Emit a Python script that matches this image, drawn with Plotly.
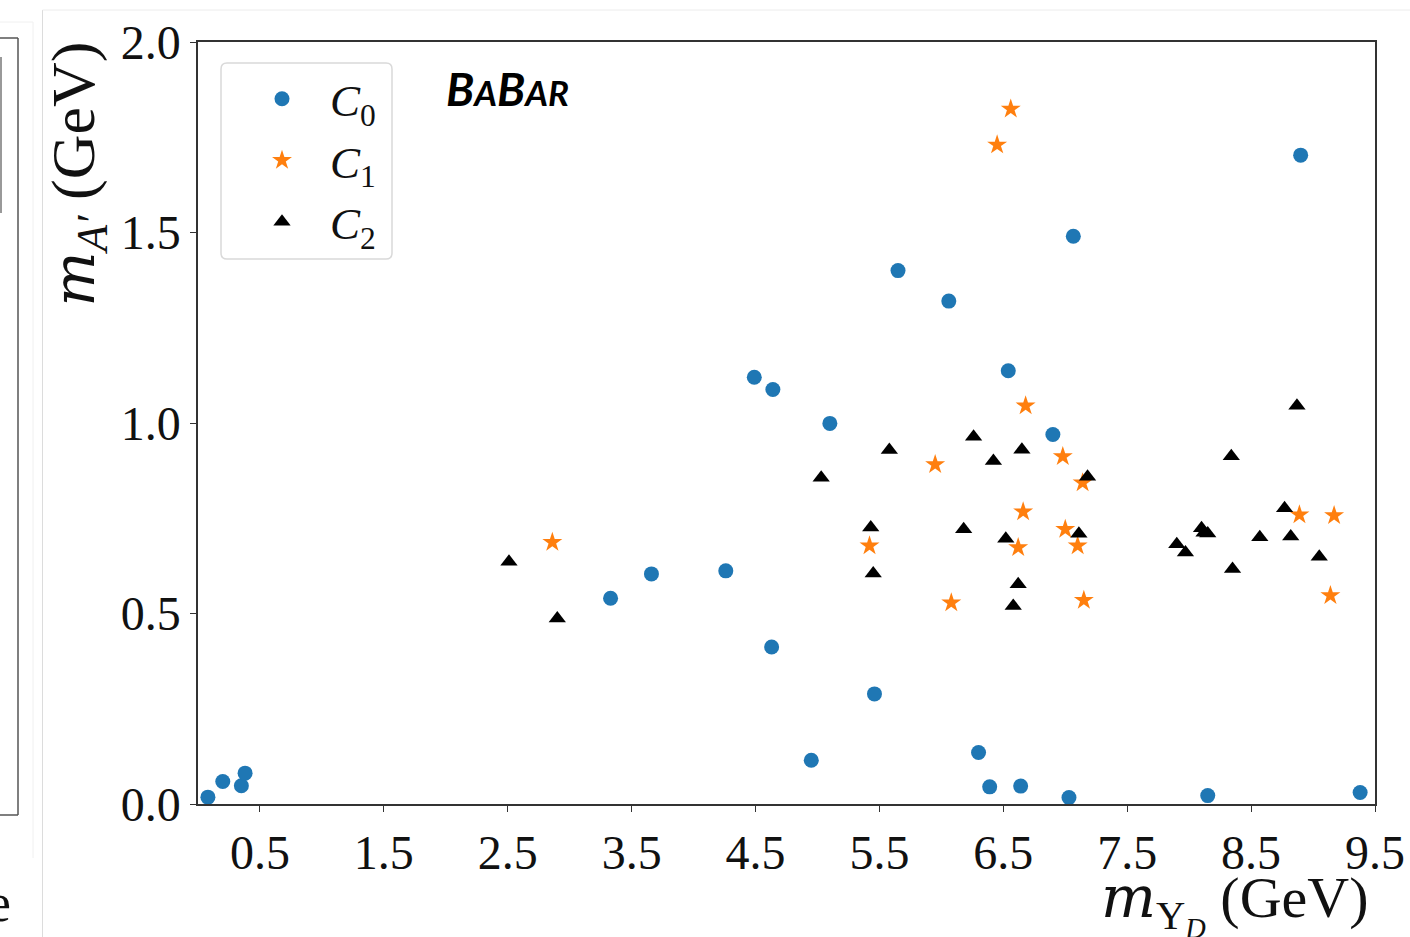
import plotly.graph_objects as go

# ---- data ----
c0_x = [0.08, 0.20, 0.35, 0.38, 3.33, 3.66, 4.26, 4.49, 4.64, 4.63, 4.95, 5.10, 5.46,
        5.65, 6.06, 6.30, 6.39, 6.54, 6.64, 6.90, 7.03, 7.065, 8.15, 8.90, 9.38]
c0_y = [0.018, 0.059, 0.048, 0.081, 0.540, 0.604, 0.612, 1.120, 1.088, 0.412, 0.115, 0.999, 0.289,
        1.40, 1.32, 0.135, 0.045, 1.137, 0.047, 0.970, 0.017, 1.49, 0.022, 1.703, 0.030]

c1_x = [2.86, 5.42, 5.95, 6.08, 6.45, 6.56, 6.62, 6.66, 6.68, 6.98, 7.00, 7.10, 7.14,
        7.15, 8.89, 9.14, 9.17]
c1_y = [0.687, 0.678, 0.891, 0.528, 1.73, 1.824, 0.673, 0.767, 1.045, 0.912, 0.721, 0.678, 0.843,
        0.535, 0.759, 0.547, 0.757]

c2_x = [2.51, 2.90, 5.03, 5.43, 5.45, 5.58, 6.18, 6.26, 6.42, 6.52, 6.58, 6.62, 6.65, 7.11,
        7.18, 7.90, 7.97, 8.10, 8.12, 8.15, 8.34, 8.35, 8.57, 8.77, 8.82, 8.87, 9.05]
c2_y = [0.636, 0.487, 0.856, 0.726, 0.605, 0.929, 0.721, 0.964, 0.900, 0.696, 0.520, 0.577, 0.930, 0.709,
        0.859, 0.682, 0.660, 0.724, 0.712, 0.710, 0.913, 0.617, 0.700, 0.776, 0.702, 1.045, 0.649]

x_ticks = [0.5, 1.5, 2.5, 3.5, 4.5, 5.5, 6.5, 7.5, 8.5, 9.5]
x_tick_labels = ["0.5", "1.5", "2.5", "3.5", "4.5", "5.5", "6.5", "7.5", "8.5", "9.5"]
y_ticks = [0.0, 0.5, 1.0, 1.5, 2.0]
y_tick_labels = ["0.0", "0.5", "1.0", "1.5", "2.0"]

series_names = ["<i>C</i><sub>0</sub>", "<i>C</i><sub>1</sub>", "<i>C</i><sub>2</sub>"]

# ---- layout geometry ----
W, H = 1410, 937
L, R, T, B = 198, 1375, 42, 804   # plot area in pixels
PW, PH = R - L, B - T


def px(x):
    return (x - L) / PW


def py(y):
    return (B - y) / PH


SERIF = "Liberation Serif"

fig = go.Figure()
fig.add_trace(go.Scatter(x=c0_x, y=c0_y, mode="markers", name=series_names[0],
                         marker=dict(symbol="circle", size=15, color="#1f77b4", line=dict(width=0))))
fig.add_trace(go.Scatter(x=c1_x, y=c1_y, mode="markers", name=series_names[1],
                         marker=dict(symbol="star", size=15, color="#ff7f0e", line=dict(width=0))))
fig.add_trace(go.Scatter(x=c2_x, y=c2_y, mode="markers", name=series_names[2],
                         marker=dict(symbol="triangle-up", size=15, color="#000000", line=dict(width=0))))

axis_common = dict(showgrid=False, zeroline=False, showline=True, mirror=True,
                   linecolor="#333", linewidth=1.5, ticks="outside", ticklen=6,
                   tickwidth=1.2, tickcolor="#333", automargin=False,
                   tickfont=dict(family=SERIF, size=48, color="#111"))

fig.update_layout(
    width=W, height=H,
    margin=dict(l=L, r=W - R, t=T, b=H - B, pad=0, autoexpand=False),
    paper_bgcolor="white", plot_bgcolor="white",
    xaxis=dict(range=[0, 9.5], tickvals=x_ticks, ticktext=x_tick_labels, **axis_common),
    yaxis=dict(range=[0, 2.0], tickvals=y_ticks, ticktext=y_tick_labels, **axis_common),
    showlegend=True,
    legend=dict(x=px(234), y=py(63), xanchor="left", yanchor="top",
                bgcolor="rgba(0,0,0,0)", borderwidth=0, itemwidth=86,
                font=dict(family=SERIF, size=45, color="#111"),
                itemsizing="trace"),
)

shapes = []
lx0, lx1, ly0, ly1, rad = 221, 392, 63, 259, 6


def P(x, y):
    return f"{px(x)},{py(y)}"


# rounded legend frame
path = (f"M {P(lx0 + rad, ly0)} L {P(lx1 - rad, ly0)} Q {P(lx1, ly0)} {P(lx1, ly0 + rad)} "
        f"L {P(lx1, ly1 - rad)} Q {P(lx1, ly1)} {P(lx1 - rad, ly1)} "
        f"L {P(lx0 + rad, ly1)} Q {P(lx0, ly1)} {P(lx0, ly1 - rad)} "
        f"L {P(lx0, ly0 + rad)} Q {P(lx0, ly0)} {P(lx0 + rad, ly0)} Z")
shapes.append(dict(type="path", xref="paper", yref="paper", path=path,
                   line=dict(color="#d9d9d9", width=1.5), fillcolor="rgba(255,255,255,0.8)",
                   layer="above"))


# cropped neighbouring-panel artefacts on the left edge
def seg(xa, ya, xb, yb, color, w):
    shapes.append(dict(type="line", xref="paper", yref="paper",
                       x0=px(xa), y0=py(ya), x1=px(xb), y1=py(yb),
                       line=dict(color=color, width=w)))


seg(0, 38, 18, 38, "#555", 1.5)
seg(18, 38, 18, 815, "#555", 1.5)
seg(0, 815, 18, 815, "#555", 1.5)
seg(1, 57, 1, 213, "#777", 1.5)
seg(0, 22, 33, 22, "#f0f0f0", 1)
seg(33, 22, 33, 858, "#f0f0f0", 1)
seg(42.5, 10, 42.5, 937, "#dcdcdc", 1)
seg(42.5, 10, 1410, 10, "#ececec", 1)

fig.update_layout(shapes=shapes)

M_SPAN = "<i><span style='font-family:DejaVu Serif;font-size:58px'>m</span></i>"

annotations = [
    dict(xref="paper", yref="paper", x=px(444), y=py(89), xanchor="left", yanchor="middle",
         text="<b><i>B<span style='font-size:35px'>A</span>B<span style='font-size:35px'>AR</span></i></b>",
         showarrow=False, font=dict(family="Lato", size=46, color="#000")),
    dict(xref="paper", yref="paper", x=px(77), y=py(40), xanchor="center", yanchor="top",
         text=M_SPAN + "<sub><i>A′</i></sub> (GeV)", textangle=-90,
         showarrow=False, font=dict(family=SERIF, size=62, color="#111")),
    dict(xref="paper", yref="paper", x=px(1370), y=py(903), xanchor="right", yanchor="middle",
         text=M_SPAN + "<sub>Υ<sub><i>D</i></sub></sub> (GeV)",
         showarrow=False, font=dict(family=SERIF, size=58, color="#111")),
    dict(xref="paper", yref="paper", x=px(13), y=py(903), xanchor="right", yanchor="middle",
         text="e", showarrow=False, font=dict(family=SERIF, size=54, color="#111")),
]
fig.update_layout(annotations=annotations)

fig.write_html("out.html")
